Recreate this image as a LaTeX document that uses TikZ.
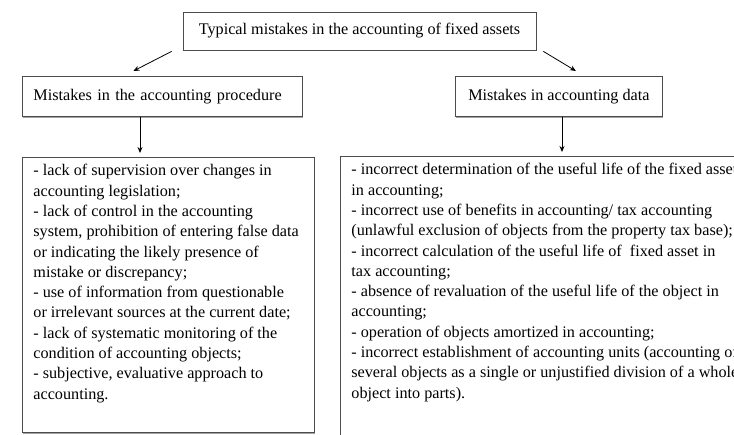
\documentclass[tikz,border=0pt]{standalone}
\usepackage{fontspec}
\setmainfont{Liberation Serif}
\usetikzlibrary{positioning, calc, arrows.meta, shadows}
\tikzset{
    framed/.style={draw=black!70, line width=.8pt, fill=white,
        drop shadow={shadow xshift=.5pt, shadow yshift=-1.5pt, fill=black!45, opacity=.8}},
    headbox/.style={framed, minimum width=353, minimum height=38, inner sep=0pt},
    kindbox/.style={framed, anchor=north west, minimum height=40, inner xsep=11pt, inner ysep=0pt},
    listbox/.style={framed, anchor=north west, inner xsep=11pt, inner ysep=7pt},
    link/.style={->, line width=.8pt}
}
% lines of the two lists, broken as in the figure
\newcommand{\listlines}[3]{\parbox[t][#1][t]{#2}{\raggedright #3}}

\begin{document}
\begin{tikzpicture}[x=1pt, y=-1pt, >={Stealth[length=6pt, width=5pt]},
    font=\fontsize{16.2}{20.3}\selectfont]
  \useasboundingbox (0,0) rectangle (734,435);
  \clip (0,0) rectangle (734,435);
  \node(T)[headbox] at (359.5,31) {Typical mistakes in the accounting of fixed assets};
  \node(P)[kindbox, text width=258, align=left] at (22,76) {Mistakes in the accounting procedure};
  \node(D)[kindbox, minimum width=207] at (455,76) {Mistakes in accounting data};
  \node(L)[listbox] at (22,157) {\listlines{261pt}{270pt}{%
    - lack of supervision over changes in\\
    accounting legislation;\\
    - lack of control in the accounting\\
    system, prohibition of entering false data\\
    or indicating the likely presence of\\
    mistake or discrepancy;\\
    - use of information from questionable\\
    or irrelevant sources at the current date;\\
    - lack of systematic monitoring of the\\
    condition of accounting objects;\\
    - subjective, evaluative approach to\\
    accounting.}};
  \node(R)[listbox] at (340,156) {\listlines{300pt}{420pt}{%
    - incorrect determination of the useful life of the fixed asset\\
    in accounting;\\
    - incorrect use of benefits in accounting/ tax accounting\\
    (unlawful exclusion of objects from the property tax base);\\
    - incorrect calculation of the useful life of~ fixed asset in\\
    tax accounting;\\
    - absence of revaluation of the useful life of the object in\\
    accounting;\\
    - operation of objects amortized in accounting;\\
    - incorrect establishment of accounting units (accounting of\\
    several objects as a single or unjustified division of a whole\\
    object into parts).}};
  \draw[link]($(T.south west)+(-11,1)$)--($(P.north)+(-29,-5)$);
  \draw[link]($(T.south east)+(7,1)$)--($(D.north)+(17,-5)$);
  \draw[link](P.south-|140,0)--($(L.north-|140,0)+(0,-4)$);
  \draw[link](D.south-|562,0)--($(R.north-|562,0)+(0,-4)$);
\end{tikzpicture}
\end{document}
